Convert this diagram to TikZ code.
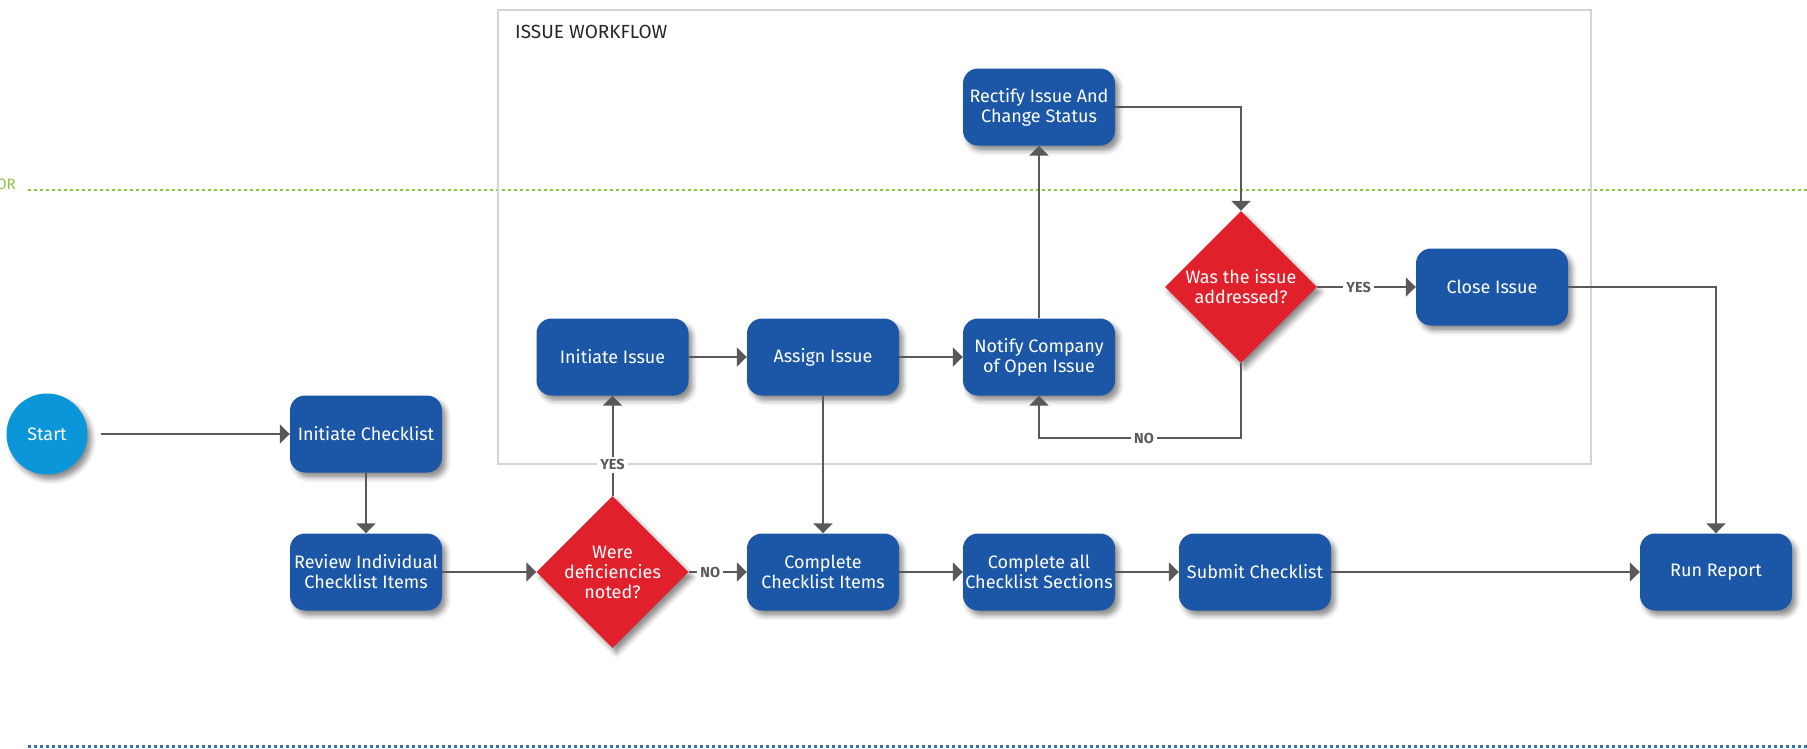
\documentclass[tikz,border=0pt]{standalone}
\usepackage{fontspec}
\setmainfont{Fira Sans}
\usetikzlibrary{arrows.meta,shapes.geometric,shadows.blur}

\definecolor{stepblue}{HTML}{1B57A6}
\definecolor{askred}{HTML}{E0202A}
\definecolor{startblue}{HTML}{0A96D8}
\definecolor{linegray}{HTML}{595959}
\definecolor{framegray}{HTML}{D4D4D4}
\definecolor{lanegreen}{HTML}{8CC63F}
\definecolor{laneblue}{HTML}{3A6EA8}

\begin{document}
\begin{tikzpicture}[x=1pt,y=-1pt,
  boxshadow/.style={blur shadow={shadow xshift=4pt,shadow yshift=-5pt,
      shadow blur radius=5pt,shadow opacity=45}},
  task/.style={rectangle,rounded corners=15pt,fill=stepblue,text=white,
      minimum width=152pt,minimum height=77pt,align=center,inner sep=2pt,
      font=\fontsize{18}{20}\selectfont,boxshadow},
  decision/.style={diamond,fill=askred,text=white,minimum width=152pt,
      minimum height=152pt,inner sep=-8pt,align=center,
      font=\fontsize{18}{20}\selectfont,boxshadow},
  startnode/.style={circle,fill=startblue,text=white,minimum size=81pt,
      font=\fontsize{18}{20}\selectfont,boxshadow},
  flow/.style={draw=linegray,line width=2pt,-{Triangle[length=10pt,width=19pt]}},
  answer/.style={fill=white,text=linegray,inner sep=3pt,
      font=\bfseries\fontsize{14.5}{16}\selectfont},
  lane/.style={line width=2.5pt,dash pattern=on 2.5pt off 3.5pt}]

  \useasboundingbox (0,0) rectangle (1807,748);

  % lanes and the issue frame
  \draw[lane,lanegreen] (28,190) -- (1807,190);
  \draw[lane,laneblue] (28,746.5) -- (1807,746.5);
  \node[anchor=east,text=lanegreen,inner sep=0pt,
        font=\fontsize{15}{17}\selectfont] (lanetag) at (16,184) {OR};
  \draw[framegray,line width=2pt] (498,10) rectangle (1591,464);
  \node[anchor=west,text=black!85,inner sep=0pt,
        font=\fontsize{19}{21}\selectfont] (title) at (515,32) {ISSUE WORKFLOW};

  % main line
  \node[startnode] (start) at (47,434) {Start};
  \node[task] (initchk) at (366,434) {Initiate Checklist};
  \node[task] (review) at (366,572) {Review Individual\\Checklist Items};
  \node[decision] (deficient) at (612.5,572) {Were\\deficiencies\\noted?};
  \node[task] (compitems) at (823,572) {Complete\\Checklist Items};
  \node[task] (compall) at (1039,572) {Complete all\\Checklist Sections};
  \node[task] (submit) at (1255,572) {Submit Checklist};
  \node[task] (report) at (1716,572) {Run Report};

  % issue workflow
  \node[task] (initissue) at (612.5,357) {Initiate Issue};
  \node[task] (assign) at (823,357) {Assign Issue};
  \node[task] (notify) at (1039,357) {Notify Company\\of Open Issue};
  \node[task] (rectify) at (1039,107) {Rectify Issue And\\Change Status};
  \node[decision] (addressed) at (1241,287) {Was the issue\\addressed?};
  \node[task] (closeissue) at (1492,287) {Close Issue};

  \coordinate (noloop) at (0,438);

  \draw[flow,shorten <=13pt] (start) -- (initchk);
  \draw[flow] (initchk) -- (review);
  \draw[flow] (review) -- (deficient);
  \draw[flow] (deficient) -- node[answer,pos=0.37] {NO} (compitems);
  \draw[flow] (deficient.north) -- node[answer,pos=0.31] {YES} (initissue.south);
  \draw[flow] (initissue) -- (assign);
  \draw[flow] (assign) -- (notify);
  \draw[flow] (notify) -- (rectify);
  \draw[flow] (rectify.east) -| (addressed.north);
  \draw[flow] (addressed) -- node[answer,pos=0.42] {YES} (closeissue);
  \draw[flow] (addressed.south) -- (addressed.south |- noloop)
     -- node[answer,pos=0.48] {NO} (notify.south |- noloop) -- (notify.south);
  \draw[flow] (assign) -- (compitems);
  \draw[flow] (compitems) -- (compall);
  \draw[flow] (compall) -- (submit);
  \draw[flow] (submit) -- (report);
  \draw[flow] (closeissue.east) -| (report.north);

\end{tikzpicture}
\end{document}
